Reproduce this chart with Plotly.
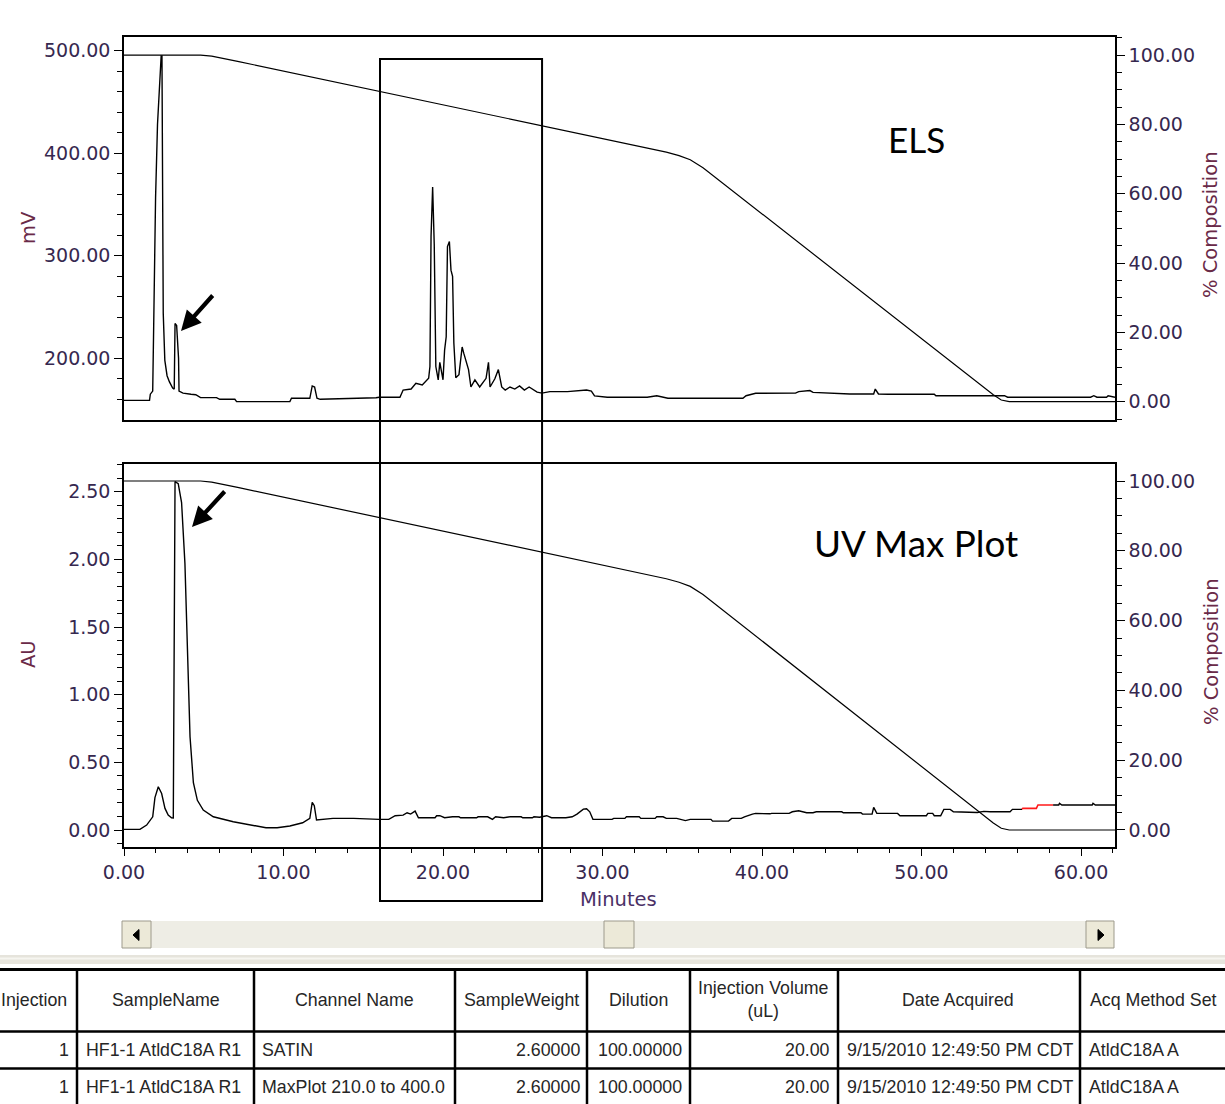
import plotly.graph_objects as go

# ---------------------------------------------------------------- data
# ELS detector trace (minutes, mV)
els_time = [0.0, 1.6, 1.65, 1.8, 1.85, 1.98, 2.1, 2.25, 2.33, 2.38, 2.4, 2.46, 2.56, 2.7, 2.85,
            3.05, 3.15, 3.2, 3.3, 3.35, 3.42, 3.45, 3.7, 4.2, 4.5, 4.8, 5.8, 6.0, 6.95, 7.06,
            10.4, 10.5, 11.65, 11.8, 11.95, 12.1, 12.3, 15.8, 16.0, 17.3, 17.5, 18.0, 18.3,
            18.7, 19.1, 19.18, 19.25, 19.35, 19.45, 19.55, 19.7, 19.8, 19.9, 20.0, 20.1, 20.2,
            20.28, 20.4, 20.5, 20.6, 20.68, 20.8, 21.0, 21.2, 21.3, 21.4, 21.6, 21.75, 22.0,
            22.3, 22.7, 22.85, 22.95, 23.25, 23.47, 23.68, 23.9, 24.2, 24.5, 24.8, 25.1, 25.4,
            25.9, 26.2, 26.7, 27.8, 29.0, 29.3, 29.5, 30.3, 32.8, 33.4, 34.1, 38.8, 39.0, 39.6,
            42.1, 42.3, 43.0, 43.2, 45.5, 47.0, 47.1, 47.3, 47.9, 50.8, 50.9, 55.2, 55.4, 60.6,
            60.8, 61.0, 61.6, 61.7, 62.13]
els_mv = [159, 159, 165, 168, 220, 357, 428, 470, 495, 495, 367, 244, 198, 183, 177,
          171, 170, 234, 232, 215, 200, 168, 166, 165, 164.5, 161.6, 161.6, 160, 160, 157.7,
          157.7, 161, 161, 173, 172, 161, 160, 161.5, 162, 162, 169, 170, 175.6,
          174, 180.5, 192, 319, 367, 311, 192, 179, 196, 185, 179, 208, 221,
          309, 314, 286, 280, 215, 181, 184, 211, 205, 200, 189, 172, 179,
          172, 180.5, 196, 172, 180, 189, 172, 169, 172, 170, 173, 169, 172,
          167, 166, 167.5, 167.5, 169, 168, 163.3, 162, 162, 163.5, 161, 161, 163.5, 165.9,
          166, 167.5, 168.5, 166.8, 165.2, 165.2, 170, 165.2, 165, 165, 163.5, 163.5, 162, 162,
          163.5, 162, 162, 163.5, 162]

# UV max-plot trace (minutes, AU)
uv_time = [0.0, 1.0, 1.42, 1.8, 1.94, 2.15, 2.36, 2.57, 2.77, 2.98, 3.09, 3.13, 3.2, 3.4, 3.61,
           3.82, 3.97, 4.14, 4.35, 4.6, 4.97, 5.6, 6.85, 8.1, 8.9, 9.6, 10.4, 11.2, 11.65, 11.8,
           11.93, 12.07, 13.1, 14.4, 15.2, 16.0, 16.6, 17.0, 17.5, 17.75, 17.97, 18.25, 18.46,
           19.5, 19.6, 19.8, 20.1, 20.6, 21.0, 21.1, 22.1, 22.2, 22.8, 23.1, 23.3, 23.8, 24.2,
           24.9, 25.0, 25.6, 25.7, 26.05, 26.5, 26.8, 27.7, 28.1, 28.4, 28.8, 29.0, 29.2, 29.4,
           30.6, 30.7, 31.4, 31.5, 32.3, 32.4, 33.3, 33.4, 33.8, 34.0, 34.65, 35.2, 35.5, 36.8,
           36.9, 37.9, 38.1, 38.7, 38.9, 39.4, 39.6, 40.5, 40.6, 41.7, 41.9, 42.3, 42.6, 42.8,
           43.2, 43.4, 45.0, 45.1, 46.2, 46.3, 46.9, 47.0, 47.2, 48.5, 48.65, 50.3, 50.4, 50.7,
           50.8, 51.2, 51.4, 51.8, 52.0, 53.5, 53.9, 54.3, 55.55, 55.7, 56.2, 56.3]
uv_au = [0.005, 0.005, 0.037, 0.098, 0.24, 0.32, 0.27, 0.16, 0.11, 0.091, 0.09, 1.63, 2.575, 2.56, 2.42,
         1.97, 1.28, 0.69, 0.35, 0.22, 0.148, 0.098, 0.061, 0.037, 0.017, 0.017, 0.03, 0.054, 0.086, 0.205,
         0.18, 0.074, 0.086, 0.086, 0.081, 0.079, 0.079, 0.106, 0.11, 0.128, 0.118, 0.14, 0.091,
         0.091, 0.106, 0.106, 0.091, 0.098, 0.098, 0.091, 0.091, 0.098, 0.098, 0.079, 0.098, 0.091, 0.098,
         0.098, 0.091, 0.091, 0.098, 0.095, 0.106, 0.091, 0.091, 0.098, 0.118, 0.155, 0.157, 0.135, 0.079,
         0.079, 0.086, 0.086, 0.098, 0.098, 0.086, 0.086, 0.098, 0.098, 0.086, 0.086, 0.07, 0.079, 0.079,
         0.066, 0.066, 0.086, 0.086, 0.098, 0.118, 0.123, 0.12, 0.123, 0.123, 0.135, 0.143, 0.135, 0.128,
         0.128, 0.135, 0.135, 0.128, 0.128, 0.118, 0.118, 0.168, 0.123, 0.123, 0.106, 0.106, 0.123, 0.123,
         0.106, 0.106, 0.153, 0.153, 0.135, 0.13, 0.138, 0.135, 0.135, 0.153, 0.153, 0.153]

# integrated (red) stretch of the UV trace and the tail after it
uv_red_time = [56.3, 56.35, 57.2, 57.3, 58.25]
uv_red_au = [0.153, 0.16, 0.16, 0.185, 0.185]
uv_tail_time = [58.25, 58.6, 58.65, 58.8, 60.7, 60.75, 60.9, 62.13]
uv_tail_au = [0.185, 0.185, 0.197, 0.185, 0.185, 0.197, 0.185, 0.185]

# solvent gradient (% composition of eluent)
grad_time = [0.0, 4.8, 5.5, 6.2, 7.2, 34.0, 34.8, 35.5, 36.3, 54.5, 55.0, 55.5, 62.13]
grad_pct = [100.0, 100.0, 99.7, 99.0, 98.1, 72.0, 71.0, 69.8, 67.5, 2.0, 0.5, 0.0, 0.0]

# sample table
table_headers = ["Injection", "SampleName", "Channel Name", "SampleWeight", "Dilution",
                 "Injection Volume<br>(uL)", "Date Acquired", "Acq Method Set"]
injection_no = [1, 1]
sample_names = ["HF1-1 AtldC18A R1", "HF1-1 AtldC18A R1"]
channel_names = ["SATIN", "MaxPlot 210.0 to 400.0"]
sample_weights = [2.60000, 2.60000]
dilutions = [100.00000, 100.00000]
injection_volumes = [20.00, 20.00]
dates_acquired = ["9/15/2010 12:49:50 PM CDT", "9/15/2010 12:49:50 PM CDT"]
acq_method_sets = ["AtldC18A A", "AtldC18A A"]

# ---------------------------------------------------------------- helpers
W, H = 1225, 1104


def px(x):
    return x / W


def py(y):
    return 1 - y / H


X0, X1 = 124, 1115          # plot area, left/right edges
TICK_FONT = dict(family="DejaVu Sans", size=19, color="#36284f")
TITLE_COLOR = "#6a2a48"
TEXT_FONT = dict(family="Liberation Sans", size=17.8, color="#262626")
LINE = dict(color="black", width=1.4)

fig = go.Figure()

fig.add_trace(go.Scatter(x=els_time, y=els_mv, mode="lines", line=LINE,
                         xaxis="x", yaxis="y", name="ELS"))
fig.add_trace(go.Scatter(x=grad_time, y=grad_pct, mode="lines",
                         line=dict(color="black", width=1.2),
                         xaxis="x", yaxis="y2", name="Gradient"))
fig.add_trace(go.Scatter(x=uv_time, y=uv_au, mode="lines", line=LINE,
                         xaxis="x2", yaxis="y3", name="UV"))
fig.add_trace(go.Scatter(x=uv_red_time, y=uv_red_au, mode="lines",
                         line=dict(color="#ff1a1a", width=1.6),
                         xaxis="x2", yaxis="y3", name="UV integrated"))
fig.add_trace(go.Scatter(x=uv_tail_time, y=uv_tail_au, mode="lines", line=LINE,
                         xaxis="x2", yaxis="y3", name="UV tail"))
fig.add_trace(go.Scatter(x=grad_time, y=grad_pct, mode="lines",
                         line=dict(color="black", width=1.2),
                         xaxis="x2", yaxis="y4", name="Gradient"))

top_dom = [py(419.5), py(37)]
bot_dom = [py(846.7), py(464)]
x_dom = [px(X0), px(X1)]

common_axis = dict(showgrid=False, zeroline=False, showline=True, linecolor="black",
                   linewidth=1.5, tickcolor="black", tickwidth=1.3, ticklen=8,
                   tickfont=TICK_FONT, tickformat=".2f")

fig.update_layout(
    width=W, height=H, margin=dict(l=0, r=0, t=0, b=0, autoexpand=False),
    paper_bgcolor="white", plot_bgcolor="white", showlegend=False,
    xaxis=dict(domain=x_dom, range=[0, 62.13], anchor="y", showgrid=False, zeroline=False,
               showline=True, mirror=True, linecolor="black", linewidth=1.5,
               showticklabels=False, ticks=""),
    yaxis=dict(common_axis, domain=top_dom, range=[140.3, 513.4], anchor="x",
               ticks="outside", tick0=0, dtick=100,
               minor=dict(ticks="outside", ticklen=5, dtick=20, tickcolor="black", tickwidth=1.2)),
    yaxis2=dict(common_axis, overlaying="y", side="right", anchor="x", range=[-5.13, 105.2],
                ticks="outside", tick0=0, dtick=20,
                minor=dict(ticks="outside", ticklen=5, dtick=5, tickcolor="black", tickwidth=1.2)),
    xaxis2=dict(common_axis, domain=x_dom, range=[0, 62.13], anchor="y3", mirror=True,
                ticks="outside", tick0=0, dtick=10,
                minor=dict(ticks="outside", ticklen=5, dtick=2, tickcolor="black", tickwidth=1.2)),
    yaxis3=dict(common_axis, domain=bot_dom, range=[-0.123, 2.705], anchor="x2",
                ticks="outside", tick0=0, dtick=0.5,
                minor=dict(ticks="outside", ticklen=5, dtick=0.1, tickcolor="black", tickwidth=1.2)),
    yaxis4=dict(common_axis, overlaying="y3", side="right", anchor="x2", range=[-4.79, 104.87],
                ticks="outside", tick0=0, dtick=20,
                minor=dict(ticks="outside", ticklen=5, dtick=5, tickcolor="black", tickwidth=1.2)),
)

shapes = []
annotations = []

# window marking the 16-26 min region across both panels
shapes.append(dict(type="rect", xref="x", yref="paper", x0=16.05, x1=26.21,
                   y0=py(901), y1=py(59), line=dict(color="black", width=2)))

# axis titles
for text, x, y, size in [("mV", 28, 228, 19.5),
                         ("AU", 28, 654, 19.5),
                         ("% Composition", 1211, 225, 19.5),
                         ("% Composition", 1211, 652, 19.5)]:
    annotations.append(dict(text=text, x=px(x), y=py(y), xref="paper", yref="paper",
                            showarrow=False, textangle=-90, xanchor="center", yanchor="middle",
                            font=dict(family="DejaVu Sans", size=size, color=TITLE_COLOR)))
annotations.append(dict(text="Minutes", x=px(618), y=py(899), xref="paper", yref="paper",
                        showarrow=False, xanchor="center", yanchor="middle",
                        font=dict(family="DejaVu Sans", size=19.5, color="#4a3066")))

# panel labels
annotations.append(dict(text="ELS", x=px(916), y=py(139), xref="paper", yref="paper",
                        showarrow=False, xanchor="center", yanchor="middle",
                        font=dict(family="Lato", size=35, color="black")))
annotations.append(dict(text="UV Max Plot", x=px(916), y=py(543), xref="paper", yref="paper",
                        showarrow=False, xanchor="center", yanchor="middle",
                        font=dict(family="Lato", size=36.8, color="black")))

# arrows pointing at the early-eluting peaks
for tip, tail in [((181, 331), (214, 294)), ((192, 527), (226, 490))]:
    annotations.append(dict(text="", x=px(tip[0]), y=py(tip[1]), xref="paper", yref="paper",
                            ax=tail[0] - tip[0], ay=tail[1] - tip[1], showarrow=True,
                            arrowhead=2, arrowsize=0.95, arrowwidth=4.2, arrowcolor="black"))

# horizontal scroll bar
SB_T, SB_B = 921, 948
shapes.append(dict(type="rect", xref="paper", yref="paper", x0=px(122), x1=px(1114),
                   y0=py(SB_B), y1=py(SB_T), fillcolor="#eeede5", line=dict(width=0)))
for bx0, bx1 in [(122, 151), (604, 634), (1086, 1114)]:
    shapes.append(dict(type="rect", xref="paper", yref="paper", x0=px(bx0), x1=px(bx1),
                       y0=py(SB_B), y1=py(SB_T), fillcolor="#ece9d8",
                       line=dict(color="#9d9a8c", width=1)))
shapes.append(dict(type="path", xref="paper", yref="paper", fillcolor="black",
                   line=dict(color="black", width=1),
                   path=f"M {px(133)} {py(935)} L {px(139)} {py(929.5)} L {px(139)} {py(940.5)} Z"))
shapes.append(dict(type="path", xref="paper", yref="paper", fillcolor="black",
                   line=dict(color="black", width=1),
                   path=f"M {px(1104)} {py(935)} L {px(1098)} {py(929.5)} L {px(1098)} {py(940.5)} Z"))

# separator band above the table
shapes.append(dict(type="rect", xref="paper", yref="paper", x0=0, x1=1,
                   y0=py(964), y1=py(955), fillcolor="#e6e4dc", line=dict(width=0)))
shapes.append(dict(type="line", xref="paper", yref="paper", x0=0, x1=1,
                   y0=py(958.5), y1=py(958.5), line=dict(color="#f6f5f0", width=2)))

# table grid
for yl, wdt in [(969.5, 3), (1031.5, 2.5), (1068.5, 2.5)]:
    shapes.append(dict(type="line", xref="paper", yref="paper", x0=0, x1=1,
                       y0=py(yl), y1=py(yl), line=dict(color="black", width=wdt)))
col_edges = [77, 254, 455, 587, 690, 838, 1080]
for xc in col_edges:
    shapes.append(dict(type="line", xref="paper", yref="paper", x0=px(xc), x1=px(xc),
                       y0=py(969), y1=py(1104), line=dict(color="black", width=2.5)))

# table header
header_x = [69, 165.5, 354.5, 521, 638.5, 763, 958, 1153]
header_anchor = ["right", "center", "center", "center", "center", "center", "center", "center"]
for text, x, anc in zip(table_headers, header_x, header_anchor):
    annotations.append(dict(text=text, x=px(x), y=py(999.5), xref="paper", yref="paper",
                            showarrow=False, xanchor=anc, yanchor="middle", font=TEXT_FONT))

# table rows
row_y = [1050, 1087]
for i, yr in enumerate(row_y):
    cells = [
        (str(injection_no[i]), 71, "right"),
        (sample_names[i], 84, "left"),
        (channel_names[i], 260, "left"),
        (f"{sample_weights[i]:.5f}", 582, "right"),
        (f"{dilutions[i]:.5f}", 684, "right"),
        (f"{injection_volumes[i]:.2f}", 832, "right"),
        (dates_acquired[i], 845, "left"),
        (acq_method_sets[i], 1087, "left"),
    ]
    for text, x, anc in cells:
        annotations.append(dict(text=text, x=px(x), y=py(yr), xref="paper", yref="paper",
                                showarrow=False, xanchor=anc, yanchor="middle", font=TEXT_FONT))

fig.update_layout(shapes=shapes, annotations=annotations)
fig.write_html("out.html")
